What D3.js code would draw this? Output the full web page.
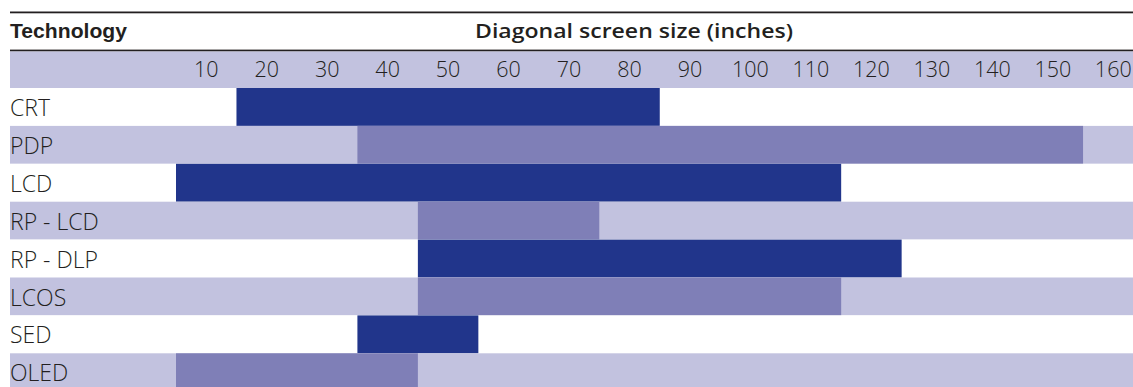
<!DOCTYPE html>
<html>
<head>
<meta charset="utf-8">
<script src="https://cdn.jsdelivr.net/npm/d3@7"></script>
<style>
  html, body { margin: 0; padding: 0; background: #fff; }
  svg { display: block; }
</style>
</head>
<body>
<svg id="chart" width="1133" height="387"></svg>
<script>
// ---- data ----
const technologies = ["CRT", "PDP", "LCD", "RP - LCD", "RP - DLP", "LCOS", "SED", "OLED"];
const sizeStart = [20, 40, 10, 50, 50, 50, 40, 10];   // first column covered (inches)
const sizeEnd   = [80, 150, 110, 70, 120, 110, 50, 40]; // last column covered (inches)
const tickLabels = [10, 20, 30, 40, 50, 60, 70, 80, 90, 100, 110, 120, 130, 140, 150, 160];
const headerLeft = "Technology";
const headerRight = "Diagonal screen size (inches)";

// ---- styles ----
const C_DARK = "#21358b";
const C_MID = "#7f7fb7";
const C_LIGHT = "#c2c2df";
const C_TEXT = "#231f20";
const FONT = "'Open Sans', 'Liberation Sans', sans-serif";

const svg = d3.select("#chart");
const left = 10, right = 1133;
const tickBandTop = 51.5, rowTop = 88, rowH = 37.9;

const x = d3.scaleBand().domain(tickLabels).range([176, 176 + 16 * 60.47]).padding(0);
const y = d3.scaleBand().domain(technologies).range([rowTop, rowTop + rowH * technologies.length]).padding(0);

// header lines
svg.append("rect").attr("x", left).attr("y", 11.5).attr("width", right - left).attr("height", 1.8).attr("fill", C_TEXT);
svg.append("rect").attr("x", left).attr("y", 49.6).attr("width", right - left).attr("height", 1.9).attr("fill", C_TEXT);

// header texts
svg.append("text").attr("x", left).attr("y", 38.3)
  .attr("font-family", "'Liberation Sans', Arial, sans-serif").attr("font-weight", 700)
  .attr("font-size", 20.5).attr("fill", C_TEXT)
  .attr("textLength", 117).attr("lengthAdjust", "spacingAndGlyphs")
  .text(headerLeft);
svg.append("text").attr("x", 475).attr("y", 38.3)
  .attr("font-family", FONT).attr("font-weight", 600)
  .attr("font-size", 20.5).attr("fill", C_TEXT)
  .attr("textLength", 318).attr("lengthAdjust", "spacingAndGlyphs")
  .text(headerRight);

// tick band
svg.append("rect").attr("x", left).attr("y", tickBandTop).attr("width", right - left)
  .attr("height", rowTop - tickBandTop).attr("fill", C_LIGHT);

svg.append("g").selectAll("text").data(tickLabels).join("text")
  .attr("x", d => x(d) + x.bandwidth() / 2)
  .attr("y", 76.8)
  .attr("text-anchor", "middle")
  .attr("font-family", FONT).attr("font-weight", 300)
  .attr("font-size", 21.5).attr("fill", C_TEXT)
  .text(d => d);

// rows
const rows = svg.append("g").selectAll("g").data(technologies).join("g");
rows.append("rect")
  .attr("x", left).attr("y", d => y(d))
  .attr("width", right - left).attr("height", y.bandwidth())
  .attr("fill", (d, i) => i % 2 === 1 ? C_LIGHT : "#ffffff");
rows.append("rect")
  .attr("x", (d, i) => x(sizeStart[i]))
  .attr("y", d => y(d))
  .attr("width", (d, i) => x(sizeEnd[i]) + x.bandwidth() - x(sizeStart[i]))
  .attr("height", y.bandwidth())
  .attr("fill", (d, i) => i % 2 === 1 ? C_MID : C_DARK);
rows.append("text")
  .attr("x", left)
  .attr("y", d => y(d) + 28)
  .attr("font-family", FONT).attr("font-weight", 300)
  .attr("font-size", 23).attr("fill", C_TEXT)
  .text(d => d);
</script>
</body>
</html>
